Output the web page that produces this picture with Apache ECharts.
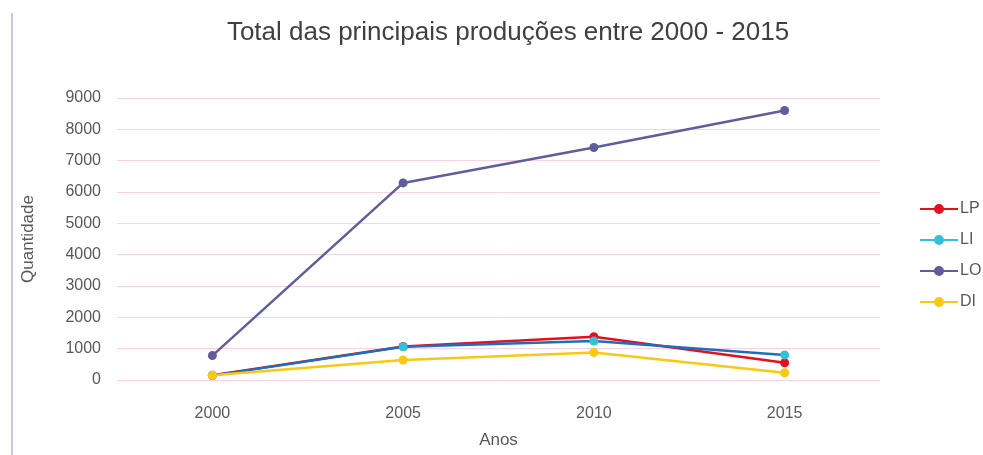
<!DOCTYPE html>
<html><head><meta charset="utf-8">
<script src="https://cdn.jsdelivr.net/npm/echarts@6/dist/echarts.min.js"></script>
<style>html,body{margin:0;padding:0;background:#fff}#c{width:983px;height:455px}</style>
</head><body><div id="c"></div>
<script>
const categories = ['2000', '2005', '2010', '2015'];
const LP = [150, 1070, 1380, 550];
const LI = [140, 1060, 1245, 800];
const LO = [780, 6290, 7420, 8600];
const DI = [150, 640, 880, 230];
const yTicks = [0, 1000, 2000, 3000, 4000, 5000, 6000, 7000, 8000, 9000];

const font = 'Liberation Sans, Arial, sans-serif';
const txt = '#595959';
function s(name, data, color, markerColor) {
  return { name, type: 'line', data, symbol: 'circle', symbolSize: 9,
    lineStyle: { color, width: 2.5 }, itemStyle: { color: markerColor || color }, z: 3 };
}
const chart = echarts.init(document.getElementById('c'));
chart.setOption({
  animation: false,
  title: { text: 'Total das principais produções entre 2000 - 2015', left: 503, top: 15, textAlign: 'center',
    textStyle: { fontFamily: font, fontSize: 26, fontWeight: 'normal', color: '#404040' } },
  graphic: [{ type: 'line', shape: { x1: 12, y1: 13, x2: 12, y2: 455 }, style: { stroke: '#c8c8ea', lineWidth: 2 } }],
  grid: { left: 117, right: 103, top: 98, bottom: 75, containLabel: false, outerBoundsMode: 'none' },
  legend: { orient: 'vertical', left: 915, top: 196, itemGap: 15, itemWidth: 38, itemHeight: 10,
    icon: 'path://M0,4 L38,4 L38,6 L0,6 Z M19,0 A5,5 0 1 1 18.99,0 Z',
    textStyle: { fontFamily: font, fontSize: 16, color: txt, padding: [0,0,0,-3] },
    data: ['LP', 'LI', 'LO', 'DI'] },
  xAxis: { type: 'category', data: categories, boundaryGap: true,
    name: 'Anos', nameLocation: 'middle', nameGap: 52,
    nameTextStyle: { fontFamily: font, fontSize: 17, color: txt },
    axisLine: { show: false }, axisTick: { show: false },
    axisLabel: { fontFamily: font, fontSize: 16, color: txt, margin: 26 } },
  yAxis: { type: 'value', min: 0, max: 9000, interval: 1000,
    name: 'Quantidade', nameLocation: 'middle', nameGap: 80, nameRotate: 90,
    nameTextStyle: { fontFamily: font, fontSize: 17, color: txt },
    axisLine: { show: false }, axisTick: { show: false },
    axisLabel: { fontFamily: font, fontSize: 16, color: txt, margin: 16,
      formatter: v => yTicks.includes(v) ? String(v) : '' },
    splitLine: { lineStyle: { color: '#f8d2de', width: 1 } } },
  series: [
    s('LP', LP, '#e5101f'),
    s('LI', LI, '#1a6fc0', '#35bfd9'),
    s('LO', LO, '#5f5d9c'),
    s('DI', DI, '#fbc715')
  ]
});
</script></body></html>
